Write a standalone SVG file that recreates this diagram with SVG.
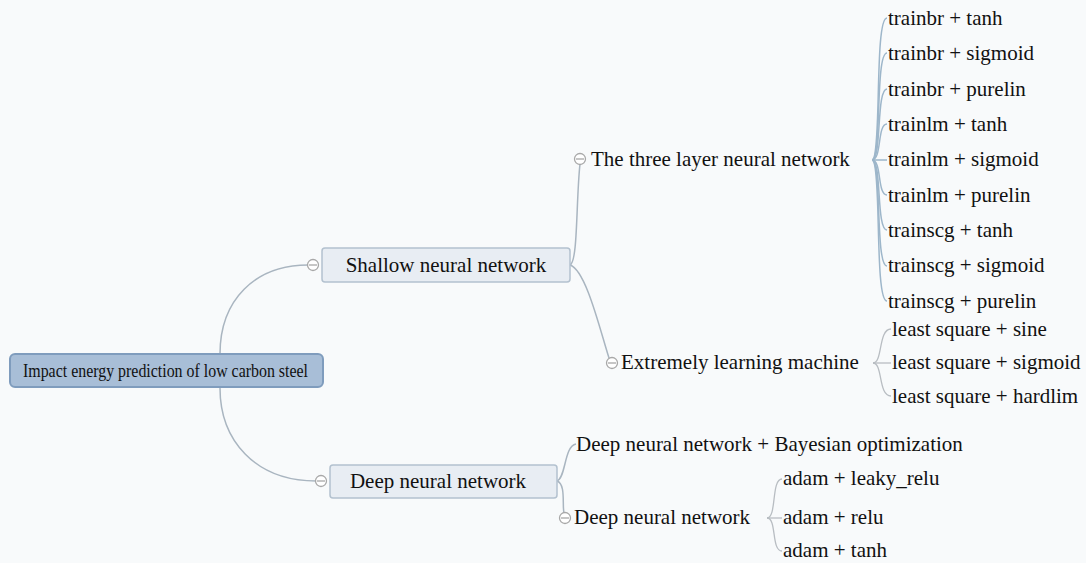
<svg xmlns="http://www.w3.org/2000/svg" width="1086" height="563" viewBox="0 0 1086 563">
<defs>
<style>
.root{fill:#a8bed7;stroke:#7f9cbd;stroke-width:2}
.main{fill:#e8edf3;stroke:#b3c1cf;stroke-width:1.5}
.ln{fill:none;stroke:#a9b5c0;stroke-width:1.5}
.lb{fill:none;stroke:#9db6ca;stroke-width:1.5}
.lg{fill:none;stroke:#b8bdc2;stroke-width:1.3}
.tog{fill:#fff;stroke:#a8a8a8;stroke-width:1.3}
.togm{stroke:#a8a8a8;stroke-width:1.3}
.t{font-family:Liberation Serif,DejaVu Serif,serif;font-size:21px;fill:#111}
</style>
<g id="toggle"><circle class="tog" cx="0" cy="0" r="5.5"/><line class="togm" x1="-4" y1="0" x2="4" y2="0"/></g>
</defs>
<rect width="1086" height="563" fill="#f8fafb"/>
<g id="connectors">
<path class="ln" d="M220 354 C220 300 255 265 308 265"/>
<path class="ln" d="M220 388 C220 440 255 481 316 481"/>
<path class="ln" d="M570 265 C578 262 576 200 580 164"/>
<path class="ln" d="M570 265 C586 270 600 330 609 358"/>
<path class="ln" d="M557 481 C566 478 564 446 576 444"/>
<path class="ln" d="M557 481 C566 484 562 505 564 513"/>
<g id="three-layer-brace">
<path class="lb" d="M872 160 C882 160 874 18 887 18"/>
<path class="lb" d="M872 160 C882 160 875 53 887 53"/>
<path class="lb" d="M872 160 C882 160 876 89 887 89"/>
<path class="lb" d="M872 160 C882 160 877 124 887 124"/>
<path class="lb" d="M872 160 L887 160"/>
<path class="lb" d="M872 160 C882 160 877 195 887 195"/>
<path class="lb" d="M872 160 C882 160 876 230 887 230"/>
<path class="lb" d="M872 160 C882 160 875 266 887 266"/>
<path class="lb" d="M872 160 C882 160 874 301 887 301"/>
</g>
<g id="elm-brace">
<path class="lg" d="M873 363 C883 363 878 329 891 329"/>
<path class="lg" d="M873 363 L891 363"/>
<path class="lg" d="M873 363 C883 363 878 396 891 396"/>
</g>
<g id="adam-brace">
<path class="lg" d="M767 518 C777 518 771 479 782 479"/>
<path class="lg" d="M767 518 L782 518"/>
<path class="lg" d="M767 518 C777 518 771 551 782 551"/>
</g>
</g>
<g id="root">
<rect class="root" x="10" y="354" width="313" height="33" rx="5"/>
<text class="t" x="23" y="377" style="font-size:19px" textLength="285" lengthAdjust="spacingAndGlyphs">Impact energy prediction of low carbon steel</text>
</g>
<g id="shallow">
<rect class="main" x="322" y="248" width="248" height="34" rx="3"/>
<text class="t" x="446" y="272" text-anchor="middle">Shallow neural network</text>
<use href="#toggle" x="313" y="265"/>
</g>
<g id="deep">
<rect class="main" x="330" y="465" width="227" height="33" rx="3"/>
<text class="t" x="438" y="488" text-anchor="middle">Deep neural network</text>
<use href="#toggle" x="321" y="481"/>
</g>
<g id="three-layer">
<use href="#toggle" x="580" y="159"/>
<text class="t" x="591" y="166">The three layer neural network</text>
</g>
<g id="elm">
<use href="#toggle" x="612" y="363"/>
<text class="t" x="621" y="369">Extremely learning machine</text>
</g>
<g id="dnn-bayes"><text class="t" x="576" y="451">Deep neural network + Bayesian optimization</text></g>
<g id="dnn">
<use href="#toggle" x="565" y="518"/>
<text class="t" x="574" y="524">Deep neural network</text>
</g>
<g id="leaves-three">
<text class="t" x="888" y="25">trainbr + tanh</text>
<text class="t" x="888" y="60">trainbr + sigmoid</text>
<text class="t" x="888" y="96">trainbr + purelin</text>
<text class="t" x="888" y="131">trainlm + tanh</text>
<text class="t" x="888" y="166">trainlm + sigmoid</text>
<text class="t" x="888" y="202">trainlm + purelin</text>
<text class="t" x="888" y="237">trainscg + tanh</text>
<text class="t" x="888" y="272">trainscg + sigmoid</text>
<text class="t" x="888" y="308">trainscg + purelin</text>
</g>
<g id="leaves-elm">
<text class="t" x="892" y="336">least square + sine</text>
<text class="t" x="892" y="369">least square + sigmoid</text>
<text class="t" x="892" y="403">least square + hardlim</text>
</g>
<g id="leaves-adam">
<text class="t" x="783" y="485">adam + leaky_relu</text>
<text class="t" x="783" y="524">adam + relu</text>
<text class="t" x="783" y="557">adam + tanh</text>
</g>
</svg>
